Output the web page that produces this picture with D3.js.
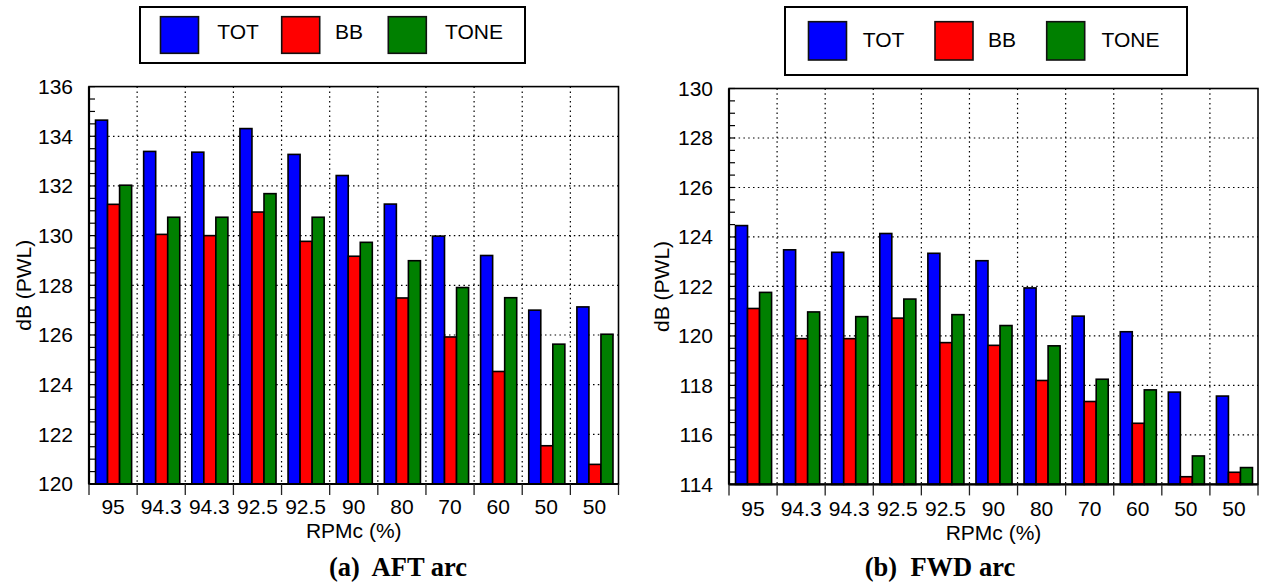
<!DOCTYPE html>
<html>
<head>
<meta charset="utf-8">
<script src="https://cdn.jsdelivr.net/npm/d3@7"></script>
<style>
  html, body { margin: 0; padding: 0; background: #fff; }
  svg { display: block; }
  text { font-family: "Liberation Sans", Arial, sans-serif; fill: #000; }
  .caption { font-family: "Liberation Serif", "Times New Roman", serif; font-weight: bold; }
</style>
</head>
<body>
<svg id="chart" width="1263" height="584"></svg>
<script>
// RPMc settings along the x axis (shared by both arcs)
const categories = ["95", "94.3", "94.3", "92.5", "92.5", "90", "80", "70", "60", "50", "50"];
const seriesNames = ["TOT", "BB", "TONE"];
const seriesColors = ["#0000ff", "#ff0000", "#008000"];

// AFT arc levels, dB (PWL)
const aftTOT  = [134.65, 133.39, 133.36, 134.31, 133.27, 132.42, 131.27, 129.98, 129.20, 127.00, 127.13];
const aftBB   = [131.26, 130.05, 130.00, 130.95, 129.77, 129.17, 127.49, 125.92, 124.53, 121.54, 120.79];
const aftTONE = [132.03, 130.74, 130.74, 131.69, 130.74, 129.73, 128.99, 127.91, 127.50, 125.63, 126.03];

// FWD arc levels, dB (PWL)
const fwdTOT  = [124.46, 123.48, 123.38, 124.14, 123.34, 123.04, 121.94, 120.80, 120.17, 117.73, 117.57];
const fwdBB   = [121.11, 119.89, 119.89, 120.72, 119.73, 119.62, 118.20, 117.35, 116.47, 114.31, 114.49];
const fwdTONE = [121.76, 120.97, 120.78, 121.49, 120.86, 120.42, 119.60, 118.25, 117.82, 115.15, 114.68];

// y tick labels
const aftTicks = [120, 122, 124, 126, 128, 130, 132, 134, 136];
const fwdTicks = [114, 116, 118, 120, 122, 124, 126, 128, 130];

const svg = d3.select("#chart");

function drawPanel(p) {
  const g = svg.append("g");
  const x = d3.scaleBand().domain(d3.range(categories.length)).range([p.left, p.right]);
  const y = d3.scaleLinear().domain(p.domain).range([p.bottom, p.top]);
  const inner = d3.scaleBand().domain(d3.range(p.series.length))
    .range([0, x.bandwidth() * 0.75]);
  const groupOffset = (x.bandwidth() - x.bandwidth() * 0.75) / 2 + 0.5;

  // dotted grid: horizontal at major ticks, vertical at category boundaries
  const grid = g.append("g").attr("stroke", "#000").attr("stroke-width", 1.2)
    .attr("stroke-dasharray", "1.5,3.3");
  grid.selectAll("line.h").data(p.ticks.slice(1, -1)).join("line")
    .attr("x1", p.left).attr("x2", p.right)
    .attr("y1", d => y(d)).attr("y2", d => y(d));
  grid.selectAll("line.v").data(d3.range(1, categories.length)).join("line")
    .attr("x1", d => x(d)).attr("x2", d => x(d))
    .attr("y1", p.top).attr("y2", p.bottom);

  // bars
  p.series.forEach((vals, s) => {
    g.append("g").selectAll("rect").data(vals).join("rect")
      .attr("x", (d, i) => x(i) + groupOffset + inner(s))
      .attr("width", inner.bandwidth())
      .attr("y", d => y(d))
      .attr("height", d => p.bottom - y(d))
      .attr("fill", seriesColors[s])
      .attr("stroke", "#000")
      .attr("stroke-width", 1.6);
  });

  // minor ticks on the y axis, pointing inward
  const minor = d3.range(p.domain[0], p.domain[1] + 0.001, 0.5);
  g.append("g").selectAll("line").data(minor).join("line")
    .attr("x1", p.left).attr("x2", p.left + 6)
    .attr("y1", d => y(d)).attr("y2", d => y(d))
    .attr("stroke", "#000").attr("stroke-width", 1.2);

  // frame
  g.append("rect")
    .attr("x", p.left).attr("y", p.top)
    .attr("width", p.right - p.left).attr("height", p.bottom - p.top)
    .attr("fill", "none").attr("stroke", "#000").attr("stroke-width", 1.6);
  g.append("line").attr("x1", p.left).attr("x2", p.left)
    .attr("y1", p.top).attr("y2", p.bottom)
    .attr("stroke", "#000").attr("stroke-width", 2.2);
  g.append("line").attr("x1", p.left).attr("x2", p.right)
    .attr("y1", p.bottom).attr("y2", p.bottom)
    .attr("stroke", "#000").attr("stroke-width", 2.2);

  // y axis labels
  const yAxis = d3.axisLeft(y).tickValues(p.ticks).tickSize(0).tickPadding(16)
    .tickFormat(d3.format("d"));
  const ya = g.append("g").attr("transform", `translate(${p.left},0)`).call(yAxis);
  ya.select(".domain").remove();
  ya.selectAll("text").style("font-size", "21px")
    .style("font-family", '"Liberation Sans", Arial, sans-serif');

  // x axis: ticks at category boundaries, labels centred in each band
  g.append("g").selectAll("line").data(d3.range(categories.length + 1)).join("line")
    .attr("x1", d => d < categories.length ? x(d) : p.right)
    .attr("x2", d => d < categories.length ? x(d) : p.right)
    .attr("y1", p.bottom).attr("y2", p.bottom + 11)
    .attr("stroke", "#222").attr("stroke-width", 1.3);
  const xAxis = d3.axisBottom(x).tickSize(0).tickPadding(0)
    .tickFormat(i => categories[i]);
  const xa = g.append("g").attr("transform", `translate(0,${p.xLabelBase})`).call(xAxis);
  xa.select(".domain").remove();
  xa.selectAll("text").attr("dy", 0).attr("y", 0)
    .style("font-size", "21px")
    .style("font-family", '"Liberation Sans", Arial, sans-serif');

  // axis titles
  g.append("text").attr("x", (p.left + p.right) / 2).attr("y", p.xTitleBase)
    .attr("text-anchor", "middle").style("font-size", "21px").text("RPMc (%)");
  g.append("text")
    .attr("transform", `translate(${p.yTitleX},${(p.top + p.bottom) / 2}) rotate(-90)`)
    .attr("text-anchor", "middle").attr("dy", "0.35em")
    .style("font-size", "21px").text("dB (PWL)");

  // caption
  g.append("text").attr("class", "caption")
    .attr("x", p.captionX).attr("y", p.captionBase)
    .attr("text-anchor", "middle").style("font-size", "26.5px")
    .attr("xml:space", "preserve").style("white-space", "pre")
    .text(p.caption);

  // legend
  const L = p.legend;
  const lg = svg.append("g");
  lg.append("rect").attr("x", L.box[0]).attr("y", L.box[1])
    .attr("width", L.box[2] - L.box[0]).attr("height", L.box[3] - L.box[1])
    .attr("fill", "#fff").attr("stroke", "#000").attr("stroke-width", 2);
  seriesNames.forEach((name, s) => {
    lg.append("rect").attr("x", L.swatchX[s]).attr("y", L.swatchY)
      .attr("width", 38).attr("height", L.swatchH)
      .attr("fill", seriesColors[s]).attr("stroke", "#111").attr("stroke-width", 1.6);
    lg.append("text").attr("x", L.textX[s]).attr("y", L.textBase)
      .style("font-size", "21px").text(name);
  });
}

drawPanel({
  left: 89, right: 618.5, top: 86.6, bottom: 484,
  domain: [120, 136], ticks: aftTicks,
  series: [aftTOT, aftBB, aftTONE],
  xLabelBase: 514, xTitleBase: 538, yTitleX: 24,
  caption: "(a)  AFT arc", captionX: 398, captionBase: 576,
  legend: { box: [140, 7, 525, 63], swatchX: [160.5, 281.7, 388.3], swatchY: 16.7, swatchH: 36.6,
            textX: [217.3, 335, 445], textBase: 38.5 }
});

drawPanel({
  left: 729, right: 1258, top: 88.5, bottom: 484.4,
  domain: [114, 130], ticks: fwdTicks,
  series: [fwdTOT, fwdBB, fwdTONE],
  xLabelBase: 515.5, xTitleBase: 540, yTitleX: 662,
  caption: "(b)  FWD arc", captionX: 940, captionBase: 576,
  legend: { box: [785, 7, 1187, 75], swatchX: [808.5, 935, 1046.7], swatchY: 21.7, swatchH: 38.3,
            textX: [862.8, 988, 1101.5], textBase: 46.7 }
});
</script>
</body>
</html>
